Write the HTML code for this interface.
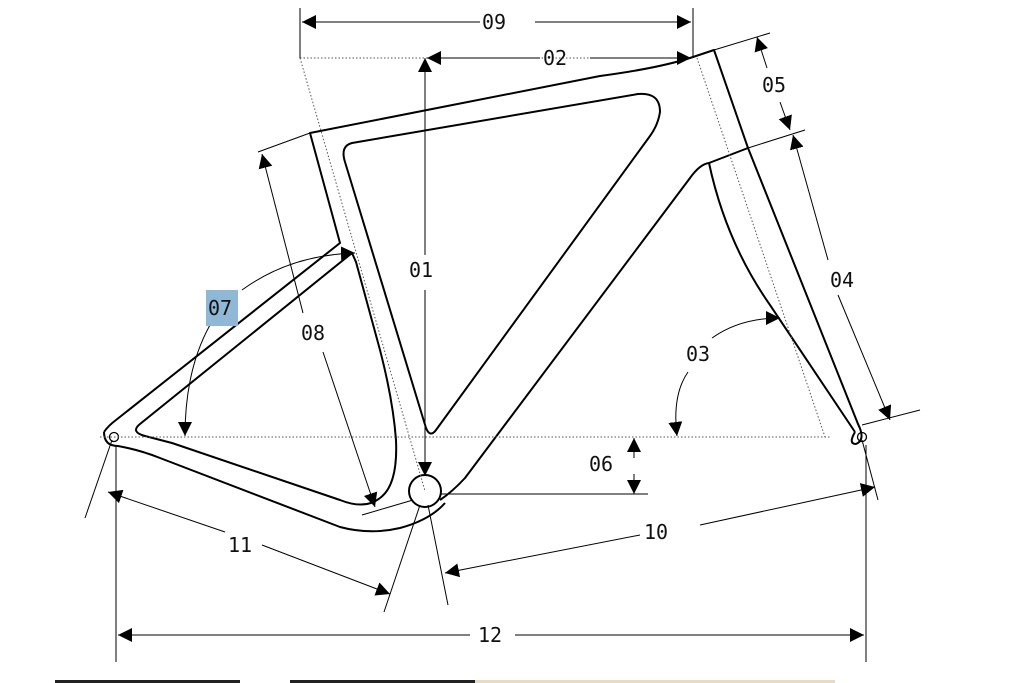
<!DOCTYPE html>
<html><head><style>
html,body{margin:0;padding:0;background:#fff;}
svg{display:block;}
text{font-family:"DejaVu Sans Mono","Liberation Mono",monospace;font-size:20px;fill:#111;}
</style></head><body>
<svg width="1024" height="683" viewBox="0 0 1024 683" xmlns="http://www.w3.org/2000/svg">
<defs>
<marker id="a" viewBox="0 0 10 10" refX="10" refY="5" markerWidth="14" markerHeight="14" markerUnits="userSpaceOnUse" orient="auto-start-reverse"><path d="M0,0 L10,5 L0,10 z" fill="#000"/></marker>
</defs>
<g fill="none" stroke="#000" stroke-width="2" stroke-linejoin="round">
<path d="M104,432 Q108,426 116,420 L340,243 L310,133 L600,76 Q660,68 693,57 L714,50 L748,148 L858,424 Q866,440 856,444 Q848,444 855,432"/>
<path d="M709,163 L748,148"/>
<path d="M709,163 C718,205 735,255 770,305 L855,432"/>
<path d="M709,163 Q700,164 690,178 L465,478 Q452,492 440,500"/>
<path d="M104,432 Q104,446 118,446 Q140,450 160,458 L340,527 Q370,535 400,528 Q430,520 445,503"/>
<path d="M352,143 L638,94 Q660,92 660,112 Q658,125 650,136 L436,430 Q430,438 426,428 L345,162 Q340,146 352,143 Z"/>
<path d="M352,253 L140,424 Q130,432 145,436 L172,443 L340,500 Q365,510 380,498 Q398,485 396,440 Q393,400 380,350 L356,262 Z"/>
<circle cx="425" cy="491" r="16"/>
</g>
<g fill="none" stroke="#000" stroke-width="1.3">
<circle cx="114" cy="437" r="4.5"/>
<circle cx="862" cy="437" r="4.5"/>
</g>
<g stroke="#555" stroke-width="1" stroke-dasharray="1.5,2" fill="none">
<line x1="100" y1="437" x2="830" y2="437"/>
<line x1="300" y1="58" x2="425" y2="491"/>
<line x1="300" y1="58" x2="693" y2="58"/>
<line x1="697" y1="58" x2="825" y2="437"/>
</g>
<g stroke="#000" stroke-width="1" fill="none">
<line x1="300" y1="8" x2="300" y2="58"/>
<line x1="693" y1="8" x2="693" y2="58"/>
<line x1="302" y1="22" x2="480" y2="22" marker-start="url(#a)"/>
<line x1="535" y1="22" x2="691" y2="22" marker-end="url(#a)"/>
<line x1="427" y1="58" x2="540" y2="58" marker-start="url(#a)"/>
<line x1="590" y1="58" x2="691" y2="58" marker-end="url(#a)"/>
<line x1="425" y1="58" x2="425" y2="255" marker-start="url(#a)"/>
<line x1="425" y1="290" x2="425" y2="476" marker-end="url(#a)"/>
<line x1="714" y1="50" x2="770" y2="33"/>
<line x1="748" y1="148" x2="805" y2="130"/>
<line x1="757" y1="37" x2="767" y2="68" marker-start="url(#a)"/>
<line x1="780" y1="102" x2="790" y2="130" marker-end="url(#a)"/>
<line x1="793" y1="135" x2="828" y2="260" marker-start="url(#a)"/>
<line x1="838" y1="295" x2="890" y2="420" marker-end="url(#a)"/>
<line x1="862" y1="425" x2="920" y2="410"/>
<path d="M712,338 Q740,318 780,318" marker-end="url(#a)"/>
<path d="M688,372 Q672,395 677,436" marker-end="url(#a)"/>
<line x1="440" y1="494" x2="648" y2="494"/>
<line x1="634" y1="438" x2="634" y2="458" marker-start="url(#a)"/>
<line x1="634" y1="474" x2="634" y2="494" marker-end="url(#a)"/>
<line x1="258" y1="152" x2="310" y2="133"/>
<line x1="262" y1="154" x2="303" y2="313" marker-start="url(#a)"/>
<line x1="323" y1="352" x2="375" y2="507" marker-end="url(#a)"/>
<line x1="362" y1="515" x2="413" y2="500"/>
<path d="M242,290 Q290,255 355,253" marker-end="url(#a)"/>
<path d="M210,325 Q185,370 185,436" marker-end="url(#a)"/>
<line x1="112" y1="440" x2="85" y2="518"/>
<line x1="108" y1="492" x2="225" y2="532" marker-start="url(#a)"/>
<line x1="262" y1="545" x2="390" y2="594" marker-end="url(#a)"/>
<line x1="420" y1="505" x2="384" y2="612"/>
<line x1="428" y1="505" x2="448" y2="605"/>
<line x1="862" y1="440" x2="878" y2="500"/>
<line x1="445" y1="573" x2="640" y2="535" marker-start="url(#a)"/>
<line x1="700" y1="525" x2="875" y2="487" marker-end="url(#a)"/>
<line x1="116" y1="445" x2="116" y2="662"/>
<line x1="866" y1="445" x2="866" y2="662"/>
<line x1="118" y1="635" x2="470" y2="635" marker-start="url(#a)"/>
<line x1="515" y1="635" x2="864" y2="635" marker-end="url(#a)"/>
</g>
<rect x="206" y="290" width="32" height="36" fill="#8fb8d6"/>
<text x="482" y="29">09</text>
<text x="543" y="65">02</text>
<text x="409" y="277">01</text>
<text x="762" y="92">05</text>
<text x="830" y="287">04</text>
<text x="686" y="361">03</text>
<text x="589" y="471">06</text>
<text x="301" y="340">08</text>
<text x="208" y="315">07</text>
<text x="228" y="552">11</text>
<text x="644" y="539">10</text>
<text x="478" y="642">12</text>
<rect x="55" y="680" width="185" height="3" fill="#222"/>
<rect x="290" y="680" width="185" height="3" fill="#222"/>
<rect x="475" y="680" width="360" height="3" fill="#e8dcc0"/>
</svg>
</body></html>
